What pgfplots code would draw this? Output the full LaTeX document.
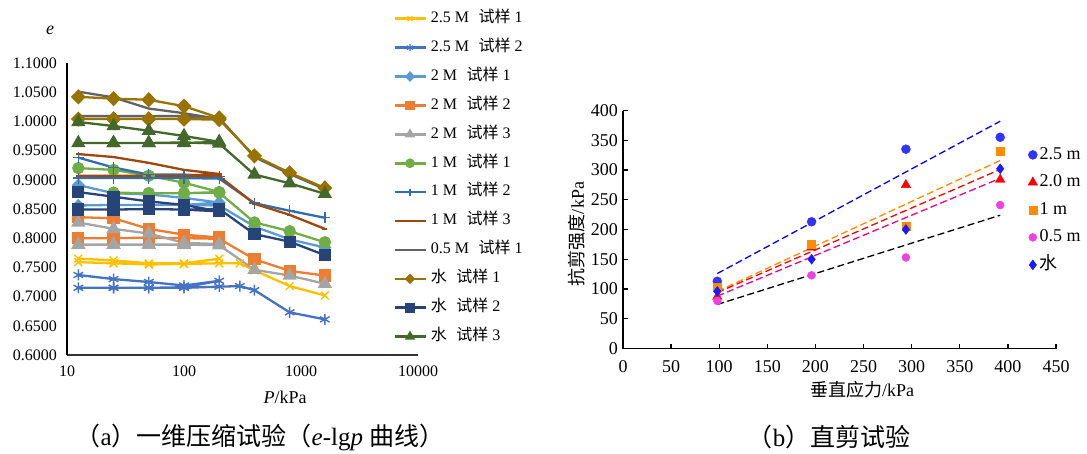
\documentclass[border=0pt]{standalone}
\usepackage{fontspec}
\setmainfont{Liberation Serif}
\newfontfamily\cjk{Noto Sans CJK SC}
\usepackage{pgfplots}
\pgfplotsset{compat=1.18}

\definecolor{cA}{HTML}{FFC000}
\definecolor{cB}{HTML}{4472C4}
\definecolor{cC}{HTML}{5B9BD5}
\definecolor{cD}{HTML}{ED7D31}
\definecolor{cE}{HTML}{A5A5A5}
\definecolor{cF}{HTML}{70AD47}
\definecolor{cG}{HTML}{2F6EAF}
\definecolor{cH}{HTML}{9E480E}
\definecolor{cI}{HTML}{636363}
\definecolor{cJ}{HTML}{997300}
\definecolor{cK}{HTML}{264478}
\definecolor{cL}{HTML}{43682B}
\definecolor{rBlue}{HTML}{3333FF}
\definecolor{rRed}{HTML}{FF0000}
\definecolor{rOrange}{HTML}{FF8C00}
\definecolor{rMag}{HTML}{F040E0}
\definecolor{rDia}{HTML}{1A1AFF}

\newcommand\fs[1]{\fontsize{#1}{#1}\selectfont}

\begin{document}
\begin{tikzpicture}[x=1pt,y=1pt]
\useasboundingbox (0pt,0pt) rectangle (1087pt,453pt);

% ---------- (a) e-lgp curves ----------
\begin{axis}[
  at={(67pt,98pt)}, anchor=south west,
  scale only axis, width=351pt, height=292pt,
  xmode=log, xmin=10, xmax=10000, ymin=0.6, ymax=1.1,
  separate axis lines,
  axis x line*=bottom, axis y line*=left,
  x axis line style={black!80, line width=1.6pt, -},
  y axis line style={black, line width=1.6pt, -},
  tick style={draw=none},
  xtick={10,100,1000,10000}, xticklabels={10,100,1000,10000},
  minor xtick={},
  ytick distance=0.05,
  /pgf/number format/assume math mode=true,
  /pgf/number format/fixed,
  /pgf/number format/fixed zerofill,
  /pgf/number format/precision=4,
  ticklabel style={font=\fs{16}},
  yticklabel style={anchor=east, inner sep=0pt, xshift=-10pt},
  xticklabel style={anchor=north, inner sep=0pt, yshift=-11pt},
  clip=false,
  every axis plot/.append style={line width=2.3pt},
  legend cell align=left,
  legend image code/.code={\draw[mark repeat=2, mark phase=2, #1, line width=2.6pt, mark size=3.5pt] plot coordinates {(0pt,0pt) (15.5pt,0pt) (31pt,0pt)};},
  legend style={at={(0.9288,1.177)}, anchor=north west, draw=none, fill=none,
    inner sep=0pt, row sep=14.4pt, column sep=4pt, font=\fs{16},
    nodes={inner sep=0pt, text height=11pt, text depth=3.5pt}},
]
\addplot[cA, mark=x, mark size=5.5pt, mark options={line width=1.4pt}] coordinates {
 (12.5,0.765)(25,0.762)(50,0.757)(100,0.757)(200,0.765)(100,0.756)(50,0.755)(25,0.757)(12.5,0.759)
 (25,0.757)(50,0.755)(100,0.756)(200,0.757)(300,0.757)(400,0.745)(800,0.718)(1600,0.702)};
\addlegendentry{2.5 M\hspace{0.6em}{\cjk 试样} 1}
\addplot[cB, mark=asterisk, mark size=5.5pt, mark options={line width=1.4pt}] coordinates {
 (12.5,0.737)(25,0.730)(50,0.725)(100,0.719)(200,0.727)(100,0.716)(50,0.715)(25,0.715)(12.5,0.715)
 (25,0.715)(50,0.715)(100,0.715)(200,0.717)(300,0.718)(400,0.711)(800,0.673)(1600,0.661)};
\addlegendentry{2.5 M\hspace{0.6em}{\cjk 试样} 2}
\addplot[cC, mark=diamond*, mark size=5pt, mark options={xscale=1.3}] coordinates {
 (12.5,0.891)(25,0.877)(50,0.875)(100,0.869)(200,0.861)(100,0.857)(50,0.857)(25,0.857)(12.5,0.856)
 (25,0.857)(50,0.857)(100,0.857)(200,0.856)(400,0.820)(800,0.798)(1600,0.784)};
\addlegendentry{2 M\hspace{0.6em}{\cjk 试样} 1}
\addplot[cD, mark=square*, mark size=5pt] coordinates {
 (12.5,0.836)(25,0.834)(50,0.816)(100,0.806)(200,0.801)(100,0.800)(50,0.801)(25,0.800)(12.5,0.800)
 (25,0.800)(50,0.801)(100,0.800)(200,0.799)(400,0.764)(800,0.744)(1600,0.736)};
\addlegendentry{2 M\hspace{0.6em}{\cjk 试样} 2}
\addplot[cE, mark=triangle*, mark size=6pt] coordinates {
 (12.5,0.827)(25,0.816)(50,0.808)(100,0.792)(200,0.790)(100,0.789)(50,0.789)(25,0.789)(12.5,0.789)
 (25,0.789)(50,0.789)(100,0.789)(200,0.788)(400,0.746)(800,0.736)(1600,0.722)};
\addlegendentry{2 M\hspace{0.6em}{\cjk 试样} 3}
\addplot[cF, mark=*, mark size=5pt] coordinates {
 (12.5,0.920)(25,0.917)(50,0.907)(100,0.895)(200,0.879)(100,0.877)(50,0.877)(25,0.878)
 (50,0.877)(100,0.877)(200,0.878)(400,0.827)(800,0.812)(1600,0.793)};
\addlegendentry{1 M\hspace{0.6em}{\cjk 试样} 1}
\addplot[cG, mark=+, mark size=5.5pt, mark options={line width=1.4pt}] coordinates {
 (12.5,0.938)(25,0.921)(50,0.909)(100,0.909)(200,0.906)(100,0.903)(50,0.903)(25,0.903)(12.5,0.903)
 (25,0.903)(50,0.903)(100,0.903)(200,0.902)(400,0.860)(800,0.847)(1600,0.835)};
\addlegendentry{1 M\hspace{0.6em}{\cjk 试样} 2}
\addplot[cH, mark=-, mark size=2.5pt] coordinates {
 (12.5,0.944)(25,0.939)(50,0.929)(100,0.917)(200,0.910)(100,0.907)(50,0.907)(25,0.907)(12.5,0.907)
 (25,0.907)(50,0.907)(100,0.907)(200,0.906)(400,0.859)(800,0.840)(1600,0.816)};
\addlegendentry{1 M\hspace{0.6em}{\cjk 试样} 3}
\addplot[cI, mark=none] coordinates {
 (12.5,1.051)(25,1.041)(50,1.022)(100,1.014)(200,1.004)(100,1.009)(50,1.009)(25,1.009)(12.5,1.009)
 (25,1.009)(50,1.009)(100,1.009)(200,1.006)(400,0.939)(800,0.910)(1600,0.884)};
\addlegendentry{0.5 M\hspace{0.6em}{\cjk 试样} 1}
\addplot[cJ, mark=diamond*, mark size=6pt, mark options={xscale=1.3}] coordinates {
 (12.5,1.042)(25,1.039)(50,1.037)(100,1.026)(200,1.006)(100,1.004)(50,1.004)(25,1.004)(12.5,1.004)
 (25,1.004)(50,1.004)(100,1.004)(200,1.003)(400,0.941)(800,0.912)(1600,0.886)};
\addlegendentry{{\cjk 水}\hspace{0.6em}{\cjk 试样} 1}
\addplot[cK, mark=square*, mark size=5pt] coordinates {
 (12.5,0.879)(25,0.871)(50,0.863)(100,0.857)(200,0.846)(100,0.849)(50,0.850)(25,0.849)(12.5,0.849)
 (25,0.849)(50,0.850)(100,0.849)(200,0.850)(400,0.807)(800,0.794)(1600,0.771)};
\addlegendentry{{\cjk 水}\hspace{0.6em}{\cjk 试样} 2}
\addplot[cL, mark=triangle*, mark size=6pt] coordinates {
 (12.5,0.999)(25,0.992)(50,0.984)(100,0.975)(200,0.965)(100,0.963)(50,0.963)(25,0.963)(12.5,0.963)
 (25,0.963)(50,0.963)(100,0.964)(200,0.962)(400,0.909)(800,0.894)(1600,0.876)};
\addlegendentry{{\cjk 水}\hspace{0.6em}{\cjk 试样} 3}
\end{axis}

\node[font=\fs{18}\itshape] at (50pt,423pt) {e};
\node[font=\fs{18}] at (285pt,56pt) {\textit{P}/kPa};
\node[font=\fs{25}] at (260pt,16pt) {{\cjk （}a{\cjk ）一维压缩试验（}\textit{e}-lg\textit{p} {\cjk 曲线）}};

% ---------- (b) direct shear ----------
\begin{axis}[
  at={(623pt,104.5pt)}, anchor=south west,
  scale only axis, width=433pt, height=238pt,
  xmin=0, xmax=450, ymin=0, ymax=400,
  xtick distance=50, ytick distance=50,
  separate axis lines,
  axis x line*=bottom, axis y line*=left,
  axis line style={black, line width=1.3pt, -},
  tick align=inside, major tick length=5pt,
  tick style={black, line width=1.3pt},
  /pgf/number format/assume math mode=true,
  ticklabel style={font=\fs{18}},
  yticklabel style={anchor=east, inner sep=0pt, xshift=-5pt},
  xticklabel style={anchor=north, inner sep=0pt, yshift=-12pt},
  clip=false,
  legend cell align=left,
  legend image code/.code={\draw[#1] plot coordinates {(4.5pt,0pt)};},
  legend style={at={(0.935,0.849)}, anchor=north west, draw=none, fill=none,
    inner sep=0pt, row sep=11pt, column sep=2pt, font=\fs{18},
    nodes={inner sep=0pt, text height=12.5pt, text depth=4pt}},
]
\addplot[only marks, mark=*, mark size=4.5pt, color=rBlue] coordinates {(98,113)(196,213)(294,335)(392,355)};
\addlegendentry{2.5 m}
\addplot[only marks, mark=triangle*, mark size=5.5pt, color=rRed] coordinates {(98,87)(196,170)(294,275)(392,284)};
\addlegendentry{2.0 m}
\addplot[only marks, mark=square*, mark size=4pt, color=rOrange] coordinates {(98,103)(196,175)(294,206)(392,332)};
\addlegendentry{1 m}
\addplot[only marks, mark=*, mark size=4pt, color=rMag] coordinates {(98,80)(196,123)(294,153)(392,241)};
\addlegendentry{0.5 m}
\addplot[only marks, mark=diamond*, mark size=5pt, color=rDia] coordinates {(98,96)(196,150)(294,200)(392,302)};
\addlegendentry{{\cjk 水}}
% fitted trend lines
\addplot[blue, line width=1.3pt, dash pattern=on 7pt off 3.5pt, forget plot] coordinates {(98,126)(392,382)};
\addplot[rOrange, line width=1.3pt, dash pattern=on 7pt off 3.5pt, forget plot] coordinates {(98,96)(392,316)};
\addplot[red, line width=1.3pt, dash pattern=on 7pt off 3.5pt, forget plot] coordinates {(98,94)(392,301)};
\addplot[magenta, line width=1.3pt, dash pattern=on 7pt off 3.5pt, forget plot] coordinates {(98,88)(392,286)};
\addplot[black, line width=1.3pt, dash pattern=on 7pt off 3.5pt, forget plot] coordinates {(98,74)(392,224)};
\end{axis}

\node[font=\fs{18}, rotate=90] at (577pt,219pt) {{\cjk 抗剪强度}/kPa};
\node[font=\fs{18}] at (862pt,63pt) {{\cjk 垂直应力}/kPa};
\node[font=\fs{25}] at (829pt,16pt) {{\cjk （}b{\cjk ）直剪试验}};
\end{tikzpicture}
\end{document}
